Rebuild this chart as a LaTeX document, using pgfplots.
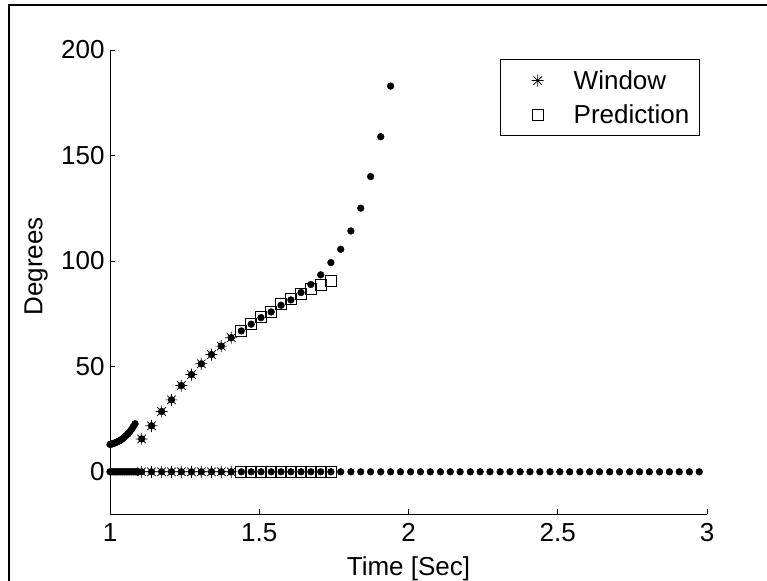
\documentclass[border=0pt]{standalone}
\usepackage{fontspec}
\setmainfont{Liberation Sans}
\usepackage{pgfplots}
\pgfplotsset{compat=1.18}

% asterisk made of a plus and a cross
\pgfdeclareplotmark{mstar}{%
  \pgfpathmoveto{\pgfqpoint{-\pgfplotmarksize}{0pt}}%
  \pgfpathlineto{\pgfqpoint{\pgfplotmarksize}{0pt}}%
  \pgfpathmoveto{\pgfqpoint{0pt}{-\pgfplotmarksize}}%
  \pgfpathlineto{\pgfqpoint{0pt}{\pgfplotmarksize}}%
  \pgfpathmoveto{\pgfqpoint{-.7071\pgfplotmarksize}{-.7071\pgfplotmarksize}}%
  \pgfpathlineto{\pgfqpoint{.7071\pgfplotmarksize}{.7071\pgfplotmarksize}}%
  \pgfpathmoveto{\pgfqpoint{-.7071\pgfplotmarksize}{.7071\pgfplotmarksize}}%
  \pgfpathlineto{\pgfqpoint{.7071\pgfplotmarksize}{-.7071\pgfplotmarksize}}%
  \pgfusepathqstroke}

\begin{document}
\begin{tikzpicture}[font=\fontsize{26bp}{31bp}\selectfont]
\useasboundingbox (0,0) rectangle (767bp,581bp);
\draw[line width=2bp] (9bp,0) -- (9bp,576bp) -- (767bp,576bp);
\begin{axis}[
  at={(110bp,67bp)}, anchor=south west,
  scale only axis, width=597bp, height=464bp,
  xmin=1, xmax=3, ymin=-20, ymax=200,
  axis x line*=bottom, axis y line*=left,
  axis line style={-, line width=1bp, black},
  xtick={1,1.5,2,2.5,3}, ytick={0,50,100,150,200},
  tick align=inside, major tick length=5bp,
  tick style={line width=0.8bp, black},
  /pgf/number format/assume math mode=true,
  xticklabel style={yshift=-6bp},
  yticklabel style={xshift=-2bp},
  xlabel={Time [Sec]}, ylabel={Degrees},
  xlabel style={at={(axis description cs:0.5,-0.1325)}, anchor=base, inner sep=0pt},
  ylabel style={at={(axis description cs:-0.104,0.534)}, anchor=south, inner sep=0pt},
  legend style={at={(axis description cs:0.988,0.980)}, anchor=north east,
    draw=black, line width=1bp, inner xsep=10bp, inner ysep=8bp, row sep=8.6bp,
    nodes={inner xsep=0pt, inner ysep=2.6bp}},
  legend cell align=left,
  legend image code/.code={%
    \path[draw=none, fill=none] (0bp,0bp) -- (63bp,0bp);
    \draw[#1] plot coordinates {(27bp,0bp)};},
]
% window samples
\addplot[only marks, mark=mstar, mark size=6bp, line width=0.7bp, black] coordinates {
  (1.106,15.6) (1.139,21.8) (1.173,28.6) (1.206,34.1) (1.239,40.9)
  (1.273,46.1) (1.306,51.2) (1.340,55.6) (1.373,59.6) (1.406,63.6)
  (1.106,0) (1.139,0) (1.173,0) (1.206,0) (1.239,0)
  (1.273,0) (1.306,0) (1.340,0) (1.373,0) (1.406,0)
};
\addlegendentry{Window}
% predicted samples
\addplot[only marks, mark=square, mark size=5.5bp, line width=0.9bp, black] coordinates {
  (1.440,66.8) (1.473,70.1) (1.506,73.6) (1.540,76.0) (1.573,79.5)
  (1.606,82.0) (1.640,84.2) (1.673,86.6) (1.706,88.6) (1.740,90.4)
  (1.440,0) (1.473,0) (1.506,0) (1.540,0) (1.573,0)
  (1.606,0) (1.640,0) (1.673,0) (1.706,0) (1.740,0)
};
\addlegendentry{Prediction}
% measured angle
\addplot[only marks, mark=*, mark size=3.4bp, black, forget plot] coordinates {
  (1.000,13.0) (1.006,13.2) (1.012,13.5) (1.018,13.8) (1.024,14.2)
  (1.030,14.6) (1.036,15.1) (1.042,15.7) (1.048,16.4) (1.054,17.2)
  (1.060,18.0) (1.066,19.0) (1.072,20.1) (1.078,21.4) (1.084,22.8)
  (1.106,15.6) (1.139,21.8) (1.173,28.6) (1.206,34.1) (1.239,40.9)
  (1.273,46.1) (1.306,51.2) (1.340,55.6) (1.373,59.6) (1.406,63.6)
  (1.440,66.8) (1.473,70.0) (1.506,73.1) (1.540,75.8) (1.573,79.0)
  (1.606,81.5) (1.640,85.0) (1.673,88.8) (1.706,93.4) (1.740,99.2)
  (1.773,105.5) (1.807,114.2) (1.840,125.0) (1.873,140.0) (1.907,158.9)
  (1.940,182.9)
};
% reference level
\addplot[only marks, mark=*, mark size=3.4bp, black, forget plot] coordinates {
  (1.000,0) (1.006,0) (1.012,0) (1.018,0) (1.024,0) (1.030,0) (1.036,0)
  (1.042,0) (1.048,0) (1.054,0) (1.060,0) (1.066,0) (1.072,0) (1.078,0)
  (1.084,0) (1.090,0) (1.095,0)
  (1.106,0) (1.139,0) (1.173,0) (1.206,0) (1.239,0) (1.273,0) (1.306,0)
  (1.340,0) (1.373,0) (1.406,0) (1.440,0) (1.473,0) (1.506,0) (1.540,0)
  (1.573,0) (1.606,0) (1.640,0) (1.673,0) (1.706,0) (1.740,0) (1.773,0)
  (1.807,0) (1.840,0) (1.873,0) (1.907,0) (1.940,0) (1.973,0) (2.007,0)
  (2.040,0) (2.073,0) (2.107,0) (2.140,0) (2.173,0) (2.207,0) (2.240,0)
  (2.273,0) (2.307,0) (2.340,0) (2.374,0) (2.407,0) (2.440,0) (2.474,0)
  (2.507,0) (2.540,0) (2.574,0) (2.607,0) (2.640,0) (2.674,0) (2.707,0)
  (2.741,0) (2.774,0) (2.807,0) (2.841,0) (2.874,0) (2.907,0) (2.941,0)
  (2.974,0)
};
\end{axis}
\end{tikzpicture}
\end{document}
